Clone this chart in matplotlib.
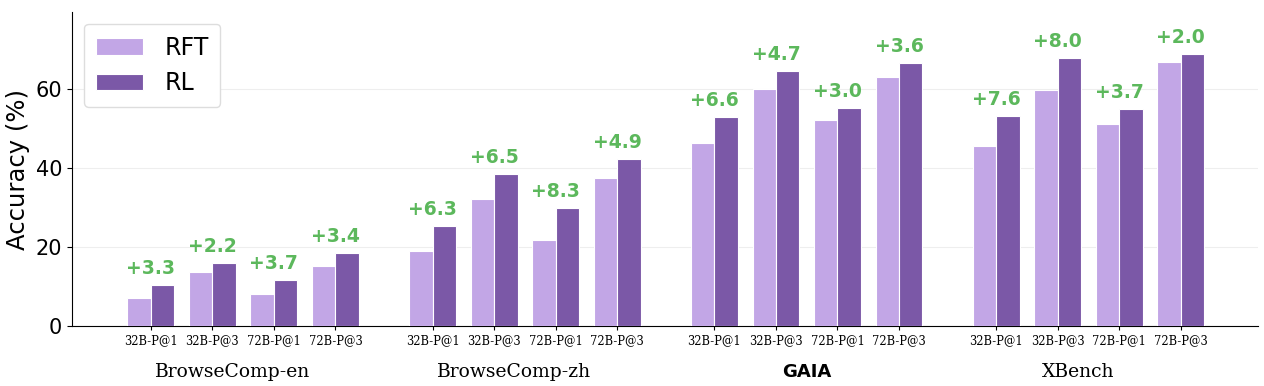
import numpy as np
import matplotlib.pyplot as plt

benchmarks = ["BrowseComp-en", "BrowseComp-zh", "GAIA", "XBench"]
configs = ["32B-P@1", "32B-P@3", "72B-P@1", "72B-P@3"]

rft = [[7.1, 13.7, 8.1, 15.1],
       [19.0, 32.1, 21.7, 37.5],
       [46.4, 59.9, 52.2, 62.9],
       [45.5, 59.8, 51.2, 66.8]]
rl = [[10.4, 15.9, 11.8, 18.5],
      [25.3, 38.6, 30.0, 42.4],
      [53.0, 64.6, 55.2, 66.5],
      [53.1, 67.8, 54.9, 68.8]]

c_rft = "#c2a6e6"
c_rl = "#7b58a7"
c_gain = "#5cb85c"

fig = plt.figure(figsize=(12.64, 3.86), dpi=100)
ax = fig.add_axes([0.057, 0.155, 0.938, 0.814])

group_step = 4.58
w = 0.38
ticks, ticklabels = [], []
for g, name in enumerate(benchmarks):
    x = g * group_step + np.arange(len(configs))
    a = np.array(rft[g])
    b = np.array(rl[g])
    ax.bar(x - w / 2, a, w, color=c_rft, edgecolor="white", linewidth=0.8,
           label="RFT" if g == 0 else None, zorder=3)
    ax.bar(x + w / 2, b, w, color=c_rl, edgecolor="white", linewidth=0.8,
           label="RL" if g == 0 else None, zorder=3)
    for xi, ai, bi in zip(x, a, b):
        ax.annotate(f"+{bi - ai:.1f}", (xi, bi), xytext=(0, 5),
                    textcoords="offset points", ha="center", va="bottom",
                    color=c_gain, fontsize=13.5, fontweight="bold")
    ticks += list(x)
    ticklabels += configs
    xc = x.mean()
    if name == "GAIA":
        ax.text(xc, -0.145, name, transform=ax.get_xaxis_transform(),
                ha="center", va="center", fontsize=13, fontweight="bold")
    else:
        ax.text(xc - 0.17, -0.145, name, transform=ax.get_xaxis_transform(),
                ha="center", va="center", fontsize=13.5, family="DejaVu Serif")

ax.set_xticks(ticks)
ax.set_xticklabels(ticklabels, family="DejaVu Serif", fontsize=8.3)
ax.tick_params(axis="x", length=3, pad=3)
ax.set_xlim(-1.28, 3 * group_step + 3 + 1.25)

ymax = max(max(r) for r in rl) * 1.155
ax.set_ylim(0, ymax)
ax.set_yticks([0, 20, 40, 60])
ax.tick_params(axis="y", labelsize=15)
ax.set_ylabel("Accuracy (%)", fontsize=17.5)
ax.yaxis.grid(True, color="#eeeeee", linewidth=0.8, zorder=0)
ax.spines["top"].set_visible(False)
ax.spines["right"].set_visible(False)

ax.legend(loc="upper left", fontsize=17, handlelength=2.0, handleheight=0.7,
          handletextpad=0.9, borderpad=0.5, framealpha=1, edgecolor="#dddddd",
          bbox_to_anchor=(0.0, 1.0))

fig.savefig("out.png", dpi=100)
